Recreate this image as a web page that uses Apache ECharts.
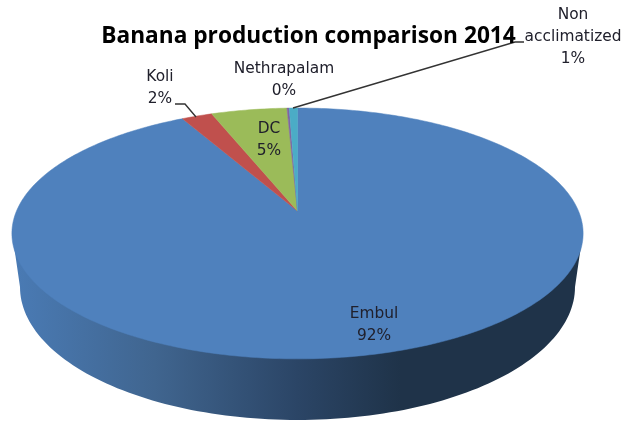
<!DOCTYPE html>
<html><head><meta charset="utf-8">
<style>html,body{margin:0;padding:0;background:#fff}#c{width:622px;height:425px}</style>
<script src="https://cdn.jsdelivr.net/npm/echarts@6/dist/echarts.min.js"></script>
</head><body><div id="c"></div>
<script>
const categories = ['Embul', 'Koli', 'DC', 'Nethrapalam', 'Non\nacclimatized'];
const values = [92.1, 2.05, 5.1, 0.15, 0.55];
const colors = ['#4f81bd', '#c0504d', '#9bbb59', '#8064a2', '#4bacc6'];

const total = values.reduce((a, b) => a + b, 0);
const labelPos = [[374, 325], [160, 88], [269, 140], [284, 80], [573, 37]];
const leaders = {1: [[175, 104], [185, 104]], 4: [[524, 42], [515, 42]]};
const leaderEnd = {1: [196, 117], 4: [293, 108]};

// Perspective projection of the pie's top disc
const P = {x0: 297.5, y0: 211, A: 281, B: 121.4, k: 0.179};
function project(theta) {
  const u = Math.sin(theta), v = -Math.cos(theta);
  const w = 1 - P.k * v;
  return [P.x0 + P.A * u / w, P.y0 + P.B * v / w];
}
function renderSlice(params, api) {
  const i = params.dataIndex;
  let before = 0;
  for (let j = 0; j < i; j++) before += values[j];
  const val = api.value(0);
  const a0 = before / total * 2 * Math.PI;
  const a1 = (before + val) / total * 2 * Math.PI;
  const n = Math.max(2, Math.ceil((a1 - a0) * 60));
  const pts = [[P.x0, P.y0]];
  for (let s = 0; s <= n; s++) pts.push(project(a0 + (a1 - a0) * s / n));
  return {type: 'polygon', shape: {points: pts}, style: {fill: colors[i], stroke: colors[i], lineWidth: 0.5}};
}
function renderLabel(params, api) {
  const i = params.dataIndex;
  const pct = Math.round(api.value(0) / total * 100);
  const children = [{
    type: 'text',
    style: {
      text: categories[i] + '\n' + pct + '%', x: labelPos[i][0], y: labelPos[i][1],
      align: 'center', verticalAlign: 'middle', lineHeight: 22,
      font: '15.4px "DejaVu Sans"', fill: '#20202c'
    }
  }];
  if (leaders[i]) {
    children.push({type: 'polyline', shape: {points: leaders[i].concat([leaderEnd[i]])},
      style: {fill: 'none', stroke: '#333', lineWidth: 1.4}});
  }
  return {type: 'group', children};
}
function renderWall() {
  const cx = 297.5, cy = 287, rx = 277.5, ry = 133;
  const pts = [[12, 232]];
  for (let s = 0; s <= 120; s++) {
    const t = Math.PI - Math.PI * s / 120;
    pts.push([cx + rx * Math.cos(t), cy + ry * Math.sin(t)]);
  }
  pts.push([583, 232]);
  return {type: 'polygon', shape: {points: pts}, style: {
    fill: new echarts.graphic.LinearGradient(0, 0, 1, 0, [
      {offset: 0, color: '#4a7bb5'}, {offset: 0.25, color: '#40658f'},
      {offset: 0.5, color: '#2b4566'}, {offset: 0.68, color: '#1f3349'},
      {offset: 1, color: '#1f3349'}
    ])
  }};
}
const rows = values.map(v => [v]);
const chart = echarts.init(document.getElementById('c'), null, {renderer: 'canvas'});
chart.setOption({
  animation: false,
  backgroundColor: '#fff',
  title: {
    text: 'Banana production comparison 2014', left: 303.5, top: 32, textAlign: 'center', textVerticalAlign: 'middle',
    textStyle: {fontFamily: '"Open Sans"', fontWeight: 'bold', fontSize: 22.7, color: '#000'}
  },
  series: [
    {type: 'custom', coordinateSystem: 'none', silent: true, renderItem: renderWall, data: [[0]], z: 1},
    {type: 'custom', coordinateSystem: 'none', silent: true, renderItem: renderSlice, data: rows, z: 2},
    {type: 'custom', coordinateSystem: 'none', silent: true, renderItem: renderLabel, data: rows, z: 3}
  ]
});
</script></body></html>
